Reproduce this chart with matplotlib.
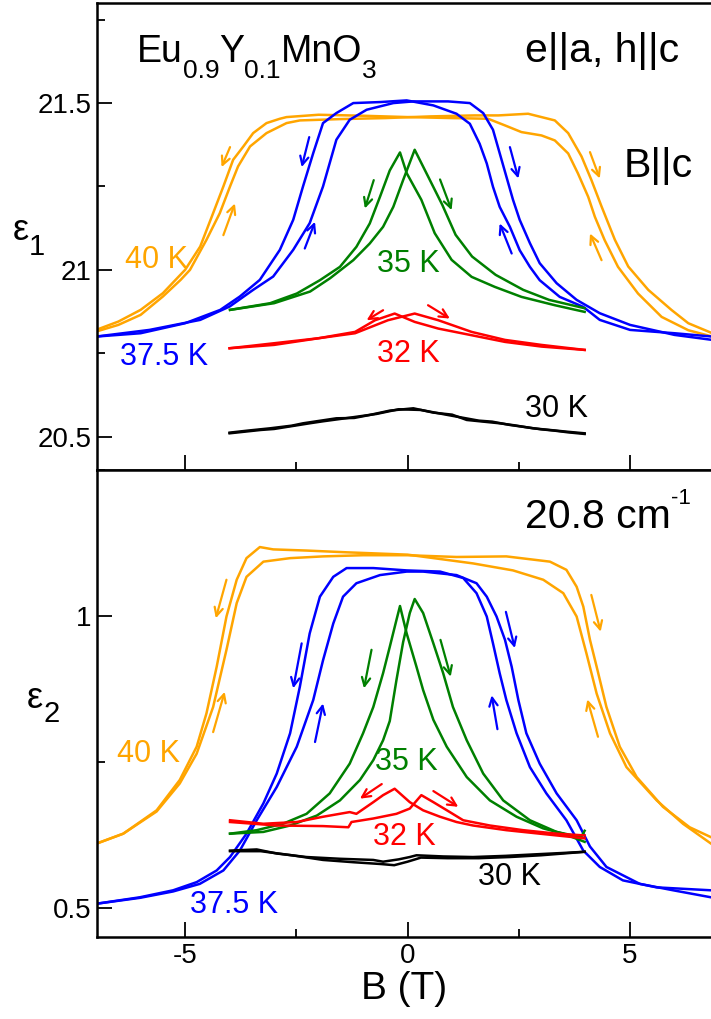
import matplotlib
matplotlib.use("Agg")
import matplotlib.pyplot as plt
from matplotlib.ticker import MultipleLocator, FormatStrFormatter
from matplotlib.transforms import offset_copy

plt.rcParams['font.family'] = ['Liberation Sans', 'DejaVu Sans']
plt.rcParams['axes.unicode_minus'] = False

C40, C375, C35, C32, C30 = '#FFA500', '#0000FF', '#008000', '#FF0000', '#000000'

# ---------------- top panel: eps1 ----------------
t40_up_B = [-7.0, -6.5, -6.0, -5.5, -5.1, -4.89, -4.52, -4.22, -3.99, -3.81, -3.54, -3.17, -2.72, -2.42, -1.5, -0.5, 0.5, 1.5, 2.04, 2.71, 3.01, 3.31, 3.61, 3.91, 4.13, 4.36, 4.66, 4.96, 5.41, 5.93, 6.31, 6.85]
t40_up_e = [20.815, 20.835, 20.865, 20.92, 20.97, 21.0, 21.09, 21.17, 21.25, 21.31, 21.37, 21.41, 21.44, 21.448, 21.452, 21.455, 21.46, 21.463, 21.463, 21.468, 21.458, 21.448, 21.41, 21.34, 21.27, 21.19, 21.09, 21.01, 20.94, 20.88, 20.84, 20.81]
t40_dn_B = [-7.0, -6.5, -6.0, -5.5, -5.0, -4.66, -4.37, -4.14, -3.92, -3.69, -3.47, -3.17, -2.87, -2.72, -2.0, -1.0, 0.0, 1.0, 1.81, 2.19, 2.56, 3.01, 3.31, 3.61, 3.83, 4.06, 4.21, 4.43, 4.73, 5.18, 5.71, 6.31, 6.85]
t40_dn_e = [20.82, 20.845, 20.88, 20.93, 21.0, 21.07, 21.17, 21.25, 21.33, 21.37, 21.41, 21.44, 21.453, 21.458, 21.465, 21.462, 21.458, 21.455, 21.453, 21.433, 21.413, 21.403, 21.388, 21.349, 21.289, 21.219, 21.159, 21.089, 21.009, 20.929, 20.859, 20.819, 20.80]

t375_up_B = [-7.0, -5.8, -4.66, -4.0, -3.47, -3.02, -2.57, -2.20, -1.90, -1.60, -1.30, -0.92, -0.32, 0.13, 0.91, 1.40, 1.70, 1.92, 2.07, 2.22, 2.37, 2.52, 2.75, 2.97, 3.35, 3.80, 4.32, 5.0, 6.0, 6.85]
t375_up_e = [20.80, 20.82, 20.85, 20.89, 20.94, 20.98, 21.06, 21.14, 21.25, 21.39, 21.45, 21.48, 21.50, 21.505, 21.505, 21.50, 21.47, 21.42, 21.35, 21.28, 21.21, 21.15, 21.08, 21.02, 20.96, 20.91, 20.87, 20.835, 20.805, 20.79]
t375_dn_B = [-7.0, -6.0, -5.0, -4.21, -3.77, -3.32, -2.87, -2.57, -2.35, -2.12, -1.90, -1.60, -1.22, -0.62, -0.02, 0.58, 1.10, 1.40, 1.62, 1.78, 1.92, 2.07, 2.30, 2.52, 2.75, 2.97, 3.42, 3.95, 4.32, 5.0, 6.0, 6.85]
t375_dn_e = [20.80, 20.81, 20.84, 20.88, 20.92, 20.97, 21.06, 21.15, 21.25, 21.35, 21.44, 21.47, 21.50, 21.503, 21.508, 21.493, 21.468, 21.438, 21.378, 21.319, 21.249, 21.189, 21.129, 21.059, 21.009, 20.969, 20.919, 20.889, 20.85, 20.82, 20.81, 20.80]

t35_up_B = [-3.99, -3.0, -2.19, -1.74, -1.22, -0.85, -0.55, -0.32, -0.10, 0.16, 0.48, 0.78, 1.08, 1.45, 1.98, 2.6, 3.18, 3.98]
t35_up_e = [20.88, 20.90, 20.935, 20.975, 21.029, 21.079, 21.129, 21.189, 21.269, 21.36, 21.275, 21.195, 21.105, 21.04, 20.985, 20.94, 20.91, 20.885]
t35_dn_B = [-3.99, -3.09, -2.49, -1.97, -1.52, -1.15, -0.85, -0.62, -0.40, -0.17, -0.02, 0.31, 0.61, 0.99, 1.44, 1.96, 2.56, 3.31, 3.98]
t35_dn_e = [20.88, 20.90, 20.929, 20.969, 21.009, 21.069, 21.139, 21.219, 21.298, 21.352, 21.29, 21.21, 21.11, 21.03, 20.979, 20.949, 20.919, 20.894, 20.874]

t32_up_B = [-4.0, -3.0, -2.0, -1.18, -0.44, 0.16, 0.69, 1.44, 2.19, 3.01, 3.98]
t32_up_e = [20.765, 20.775, 20.795, 20.81, 20.849, 20.869, 20.849, 20.814, 20.79, 20.775, 20.76]
t32_dn_B = [-4.0, -3.0, -2.0, -1.18, -0.73, -0.29, 0.16, 0.69, 1.44, 2.19, 3.01, 3.98]
t32_dn_e = [20.765, 20.78, 20.795, 20.814, 20.849, 20.869, 20.844, 20.824, 20.804, 20.784, 20.77, 20.76]

t30_up_B = [-4.0, -3.6, -3.09, -2.6, -2.35, -1.6, -1.2, -0.85, -0.4, 0.13, 0.58, 1.0, 1.33, 2.07, 2.4, 2.82, 3.2, 3.57, 3.98]
t30_up_e = [20.512, 20.518, 20.525, 20.533, 20.54, 20.555, 20.556, 20.565, 20.578, 20.585, 20.572, 20.566, 20.55, 20.54, 20.534, 20.525, 20.52, 20.515, 20.51]
t30_dn_B = [-4.0, -3.3, -3.0, -2.2, -1.9, -1.4, -0.7, -0.2, 0.3, 0.9, 1.6, 1.9, 2.3, 3.0, 3.3, 3.6, 3.98]
t30_dn_e = [20.51, 20.52, 20.523, 20.54, 20.546, 20.555, 20.568, 20.582, 20.58, 20.565, 20.548, 20.545, 20.535, 20.522, 20.518, 20.513, 20.508]

# ---------------- bottom panel: eps2 ----------------
b40_up_B = [-6.99, -6.39, -5.64, -5.12, -4.74, -4.37, -4.07, -3.84, -3.62, -3.24, -2.64, -1.90, -1.0, 0.0, 1.10, 2.22, 3.20, 3.57, 3.80, 3.95, 4.10, 4.25, 4.47, 4.77, 5.15, 5.74, 6.34, 6.82]
b40_up_e = [0.610, 0.627, 0.665, 0.713, 0.764, 0.844, 0.942, 1.022, 1.067, 1.093, 1.099, 1.102, 1.104, 1.104, 1.101, 1.102, 1.093, 1.079, 1.050, 1.016, 0.959, 0.913, 0.844, 0.776, 0.724, 0.673, 0.638, 0.621]
b40_dn_B = [-6.99, -6.39, -5.64, -5.12, -4.74, -4.52, -4.29, -4.07, -3.84, -3.62, -3.32, -3.02, -2.27, -1.37, 0.0, 1.47, 2.37, 3.05, 3.50, 3.80, 4.02, 4.25, 4.55, 4.92, 5.60, 6.19, 6.82]
b40_dn_e = [0.610, 0.627, 0.667, 0.719, 0.776, 0.833, 0.913, 0.999, 1.062, 1.099, 1.118, 1.114, 1.112, 1.109, 1.105, 1.090, 1.078, 1.062, 1.039, 0.999, 0.936, 0.867, 0.799, 0.741, 0.684, 0.644, 0.610]

b375_up_B = [-6.99, -6.02, -5.27, -4.67, -4.14, -3.77, -3.39, -2.94, -2.49, -2.12, -1.90, -1.67, -1.45, -1.15, -0.62, -0.02, 0.35, 1.10, 1.55, 1.78, 2.0, 2.19, 2.34, 2.49, 2.67, 2.97, 3.35, 3.80, 4.10, 4.47, 5.22, 5.97, 6.82]
b375_up_e = [0.507, 0.517, 0.528, 0.541, 0.564, 0.598, 0.650, 0.707, 0.776, 0.856, 0.924, 0.987, 1.033, 1.056, 1.070, 1.076, 1.076, 1.070, 1.056, 1.033, 0.999, 0.959, 0.913, 0.856, 0.799, 0.747, 0.696, 0.650, 0.605, 0.570, 0.541, 0.530, 0.518]
b375_dn_B = [-6.99, -6.02, -5.27, -4.74, -4.29, -3.99, -3.62, -3.24, -2.94, -2.64, -2.42, -2.20, -1.97, -1.67, -1.37, -0.77, -0.02, 0.73, 1.25, 1.55, 1.78, 1.92, 2.07, 2.22, 2.45, 2.75, 3.12, 3.57, 3.95, 4.32, 4.84, 5.60, 6.82]
b375_dn_e = [0.507, 0.518, 0.530, 0.544, 0.564, 0.587, 0.627, 0.679, 0.730, 0.799, 0.879, 0.970, 1.033, 1.067, 1.082, 1.082, 1.078, 1.076, 1.065, 1.039, 0.999, 0.953, 0.902, 0.856, 0.799, 0.741, 0.696, 0.650, 0.598, 0.570, 0.547, 0.535, 0.530]

b35_up_B = [-3.99, -3.24, -2.64, -2.04, -1.52, -1.07, -0.77, -0.55, -0.40, -0.25, -0.10, 0.05, 0.16, 0.35, 0.58, 0.80, 1.02, 1.33, 1.70, 2.15, 2.75, 3.35, 3.90, 3.98]
b35_up_e = [0.627, 0.630, 0.641, 0.658, 0.684, 0.719, 0.753, 0.787, 0.820, 0.890, 0.955, 1.005, 1.029, 1.005, 0.953, 0.902, 0.844, 0.787, 0.730, 0.684, 0.650, 0.630, 0.621, 0.632]
b35_dn_B = [-3.99, -3.39, -2.80, -2.27, -1.75, -1.30, -1.0, -0.77, -0.55, -0.40, -0.25, -0.17, -0.02, 0.20, 0.35, 0.58, 0.88, 1.33, 1.85, 2.45, 3.05, 3.50, 3.98]
b35_dn_e = [0.627, 0.633, 0.644, 0.661, 0.696, 0.747, 0.799, 0.844, 0.902, 0.947, 0.993, 1.017, 0.970, 0.913, 0.873, 0.822, 0.776, 0.724, 0.684, 0.656, 0.636, 0.627, 0.613]

b32_up_B = [-3.99, -2.94, -1.90, -1.33, -1.26, -0.77, -0.25, 0.05, 0.31, 0.58, 0.95, 1.25, 1.85, 2.60, 3.35, 3.98]
b32_up_e = [0.647, 0.641, 0.640, 0.638, 0.647, 0.653, 0.661, 0.670, 0.693, 0.681, 0.664, 0.650, 0.641, 0.633, 0.627, 0.624]
b32_dn_B = [-3.99, -3.24, -2.49, -1.90, -1.30, -1.15, -0.77, -0.55, -0.29, 0.05, 0.35, 0.73, 1.10, 1.47, 2.22, 2.97, 3.98]
b32_dn_e = [0.650, 0.644, 0.647, 0.656, 0.664, 0.661, 0.681, 0.693, 0.704, 0.681, 0.667, 0.656, 0.647, 0.641, 0.633, 0.627, 0.619]

b30_up_B = [-3.99, -3.39, -2.94, -2.27, -1.52, -0.77, -0.55, -0.2, 0.05, 0.20, 0.8, 1.47, 2.2, 2.97, 3.5, 3.98]
b30_up_e = [0.598, 0.600, 0.593, 0.587, 0.584, 0.582, 0.579, 0.583, 0.587, 0.590, 0.588, 0.587, 0.589, 0.592, 0.594, 0.596]
b30_dn_B = [-3.99, -3.3, -2.6, -1.9, -1.2, -0.6, -0.3, 0.0, 0.3, 0.9, 1.6, 2.3, 3.0, 3.5, 3.98]
b30_dn_e = [0.597, 0.597, 0.590, 0.582, 0.578, 0.575, 0.573, 0.579, 0.586, 0.585, 0.585, 0.587, 0.590, 0.593, 0.596]

# sweep-direction arrows (tail -> head), data coordinates
arrows_top = [
    (C40, (-3.99, 21.368), (-4.18, 21.308)), (C40, (-4.14, 21.104), (-3.88, 21.199)),
    (C40, (4.10, 21.353), (4.32, 21.274)), (C40, (4.36, 21.029), (4.10, 21.109)),
    (C375, (-2.21, 21.398), (-2.38, 21.308)), (C375, (-2.31, 21.064), (-2.08, 21.144)),
    (C375, (2.30, 21.368), (2.49, 21.274)), (C375, (2.34, 21.049), (2.07, 21.139)),
    (C35, (-0.76, 21.269), (-0.96, 21.184)), (C35, (0.73, 21.271), (0.99, 21.179)),
    (C32, (-0.55, 20.879), (-0.92, 20.849)), (C32, (0.46, 20.894), (0.95, 20.854)),
]
arrows_bot = [
    (C40, (-4.07, 1.062), (-4.31, 0.996)), (C40, (-4.37, 0.801), (-4.11, 0.870)),
    (C40, (4.13, 1.036), (4.34, 0.973)), (C40, (4.28, 0.793), (4.04, 0.857)),
    (C375, (-2.38, 0.953), (-2.57, 0.876)), (C375, (-2.08, 0.784), (-1.90, 0.850)),
    (C375, (2.21, 1.007), (2.41, 0.945)), (C375, (2.02, 0.806), (1.89, 0.864)),
    (C35, (-0.81, 0.942), (-0.98, 0.876)), (C35, (0.74, 0.959), (0.97, 0.896)),
    (C32, (-0.58, 0.712), (-1.07, 0.687)), (C32, (0.58, 0.700), (1.14, 0.673)),
]

fig = plt.figure(figsize=(7.11, 10.19), dpi=100)
axL = 97 / 711
axW = 1 - axL
ax1 = fig.add_axes([axL, 1 - 470 / 1019, axW, 467 / 1019])
ax2 = fig.add_axes([axL, 1 - 937 / 1019, axW, 467 / 1019])
renderer = fig.canvas.get_renderer()


def chain(ax, x, y, pieces, **kw):
    """Draw text pieces one after another; pieces = (text, size, dy in pixels)."""
    dx = 0.0
    for s, size, dy in pieces:
        tr = offset_copy(ax.transAxes, fig=fig, x=dx, y=dy, units='dots')
        t = ax.text(x, y, s, fontsize=size, transform=tr, ha='left', va='baseline', **kw)
        dx += t.get_window_extent(renderer).width


LW = 1.8
top_series = [
    (C40, t40_up_B, t40_up_e, t40_dn_B, t40_dn_e),
    (C375, t375_up_B, t375_up_e, t375_dn_B, t375_dn_e),
    (C35, t35_up_B, t35_up_e, t35_dn_B, t35_dn_e),
    (C32, t32_up_B, t32_up_e, t32_dn_B, t32_dn_e),
    (C30, t30_up_B, t30_up_e, t30_dn_B, t30_dn_e),
]
bot_series = [
    (C40, b40_up_B, b40_up_e, b40_dn_B, b40_dn_e),
    (C375, b375_up_B, b375_up_e, b375_dn_B, b375_dn_e),
    (C35, b35_up_B, b35_up_e, b35_dn_B, b35_dn_e),
    (C32, b32_up_B, b32_up_e, b32_dn_B, b32_dn_e),
    (C30, b30_up_B, b30_up_e, b30_dn_B, b30_dn_e),
]
for ax, series, arrows in ((ax1, top_series, arrows_top), (ax2, bot_series, arrows_bot)):
    for c, bu, eu, bd, ed in series:
        ax.plot(bu, eu, color=c, lw=LW)
        ax.plot(bd, ed, color=c, lw=LW)
    for c, tail, head in arrows:
        ax.annotate('', xy=head, xytext=tail,
                    arrowprops=dict(arrowstyle='->,head_length=0.6,head_width=0.3',
                                    color=c, lw=1.6, shrinkA=0, shrinkB=0))
    ax.set_xlim(-6.98, 6.82)
    ax.xaxis.set_major_locator(MultipleLocator(5))
    ax.xaxis.set_minor_locator(MultipleLocator(2.5))
    ax.yaxis.set_major_locator(MultipleLocator(0.5))
    ax.yaxis.set_minor_locator(MultipleLocator(0.25))
    ax.yaxis.set_major_formatter(FormatStrFormatter('%g'))
    ax.xaxis.set_major_formatter(FormatStrFormatter('%g'))
    ax.tick_params(which='both', direction='in', top=False, right=False, width=1.3, labelsize=20, pad=4)
    ax.tick_params(which='major', length=11)
    ax.tick_params(which='minor', length=5.5)
    ax.spines['right'].set_visible(False)
    for s in ('left', 'top', 'bottom'):
        ax.spines[s].set_linewidth(1.8)

ax1.set_ylim(20.40, 21.80)
ax2.set_ylim(0.45, 1.25)
ax1.tick_params(labelbottom=False)
ax2.set_xlabel('B (T)', fontsize=28, labelpad=2)

# y labels (epsilon with subscript)
chain(ax1, -0.137, 0.4925, [('ε', 26, 0), ('1', 21, -15)])
chain(ax2, -0.114, 0.490, [('ε', 26, 0), ('2', 21, -14)])

# top panel texts
chain(ax1, 0.065, 0.874, [('Eu', 27, 0), ('0.9', 19, -16), ('Y', 27, 0), ('0.1', 19, -16),
                          ('MnO', 27, 0), ('3', 19, -16)])
tk = dict(transform=ax1.transAxes, ha='left', va='baseline')
ax1.text(0.697, 0.874, 'e||a, h||c', fontsize=29.5, **tk)
ax1.text(0.857, 0.627, 'B||c', fontsize=29.5, **tk)
ax1.text(0.0456, 0.4325, '40 K', fontsize=22, color=C40, **tk)
ax1.text(0.0375, 0.2248, '37.5 K', fontsize=22, color=C375, **tk)
ax1.text(0.456, 0.424, '35 K', fontsize=22, color=C35, **tk)
ax1.text(0.456, 0.231, '32 K', fontsize=22, color=C32, **tk)
ax1.text(0.697, 0.1135, '30 K', fontsize=22, color=C30, **tk)

# bottom panel texts
chain(ax2, 0.697, 0.876, [('20.8 cm', 29.5, 0), ('-1', 16, 24)])
tk2 = dict(transform=ax2.transAxes, ha='left', va='baseline')
ax2.text(0.0326, 0.3747, '40 K', fontsize=22, color=C40, **tk2)
ax2.text(0.1515, 0.0514, '37.5 K', fontsize=22, color=C375, **tk2)
ax2.text(0.4528, 0.3576, '35 K', fontsize=22, color=C35, **tk2)
ax2.text(0.4495, 0.197, '32 K', fontsize=22, color=C32, **tk2)
ax2.text(0.6205, 0.1113, '30 K', fontsize=22, color=C30, **tk2)

fig.savefig('out.png', dpi=100)
